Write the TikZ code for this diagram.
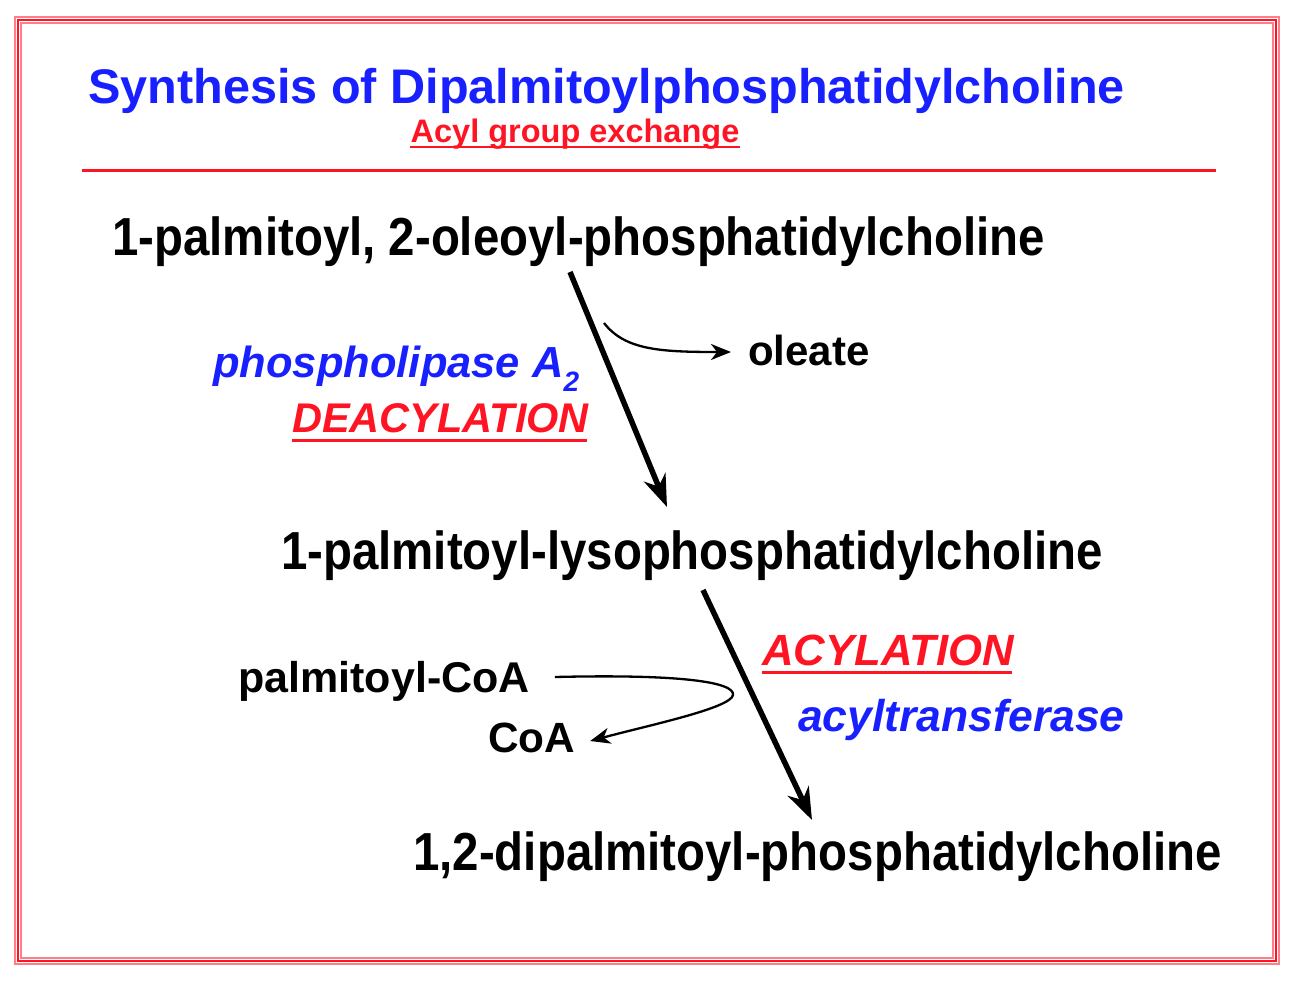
\documentclass[tikz,border=0pt]{standalone}
\usepackage{fontspec}
\setmainfont{Liberation Sans}
\usetikzlibrary{arrows.meta}

\definecolor{titleblue}{RGB}{24,32,255}
\definecolor{slidered}{RGB}{255,20,36}

\newcommand{\fs}[1]{\fontsize{#1}{#1}\selectfont}
\newcommand{\tallname}[1]{\scalebox{1}[1.13]{#1}}

\tikzset{
  chem/.style = {inner sep=0pt, anchor=base, font=\bfseries\fs{47.4}},
  side/.style = {inner sep=0pt, anchor=base west, font=\bfseries\fs{42}},
  enzyme/.style = {inner sep=0pt, anchor=base west, text=titleblue, font=\bfseries\itshape\fs{43.5}},
  steptype/.style = {inner sep=0pt, anchor=base west, text=slidered, font=\bfseries\itshape\fs{41.5}},
  react/.style = {line width=5.5pt, -{Stealth[length=32pt, width=23pt, inset=10pt]}},
  shunt/.style = {line width=2.3pt, -{Stealth[length=20pt, width=16pt, inset=6pt]}},
  uline/.style = {slidered, line width=3pt}
}

\begin{document}
\begin{tikzpicture}[x=1pt, y=-1pt]
    \useasboundingbox (0,0) rectangle (1302,982);
    % slide frame
    \begin{scope}[slidered, line width=1.6pt]
      \draw[slidered!55] (15,17) rectangle (1279,964);
      \draw (18,20) rectangle (1276,961);
      \draw[slidered!55] (21,23) rectangle (1273,958);
    \end{scope}
    % heading
    \node[inner sep=0pt, anchor=base, text=titleblue, font=\bfseries\fs{48.6}] (title) at (606.5,103)
      {Synthesis of Dipalmitoylphosphatidylcholine};
    \node[inner sep=0pt, anchor=base, text=slidered, font=\bfseries\fs{32.5}] (exchange) at (575,142)
      {Acyl group exchange};
    \draw[uline, line width=2.4pt] ([shift={(0,5)}]exchange.base west) -- ([shift={(0,5)}]exchange.base east);
    \draw[slidered, line width=2.6pt] (82,170.5) -- (1216,170.5);
    % lipids
    \node[chem] (pc)   at (578.5,255) {\tallname{1-palmitoyl, 2-oleoyl-phosphatidylcholine}};
    \node[chem] (lpc)  at (692,569)   {\tallname{1-palmitoyl-lysophosphatidylcholine}};
    \node[chem] (dppc) at (817.5,870) {\tallname{1,2-dipalmitoyl-phosphatidylcholine}};
    % deacylation step
    \node[enzyme] (pla) at (213,377)
      {phospholipase A\raisebox{-14pt}{\fs{28}2}};
    \node[steptype] (deacyl) at (292,432) {DEACYLATION};
    \draw[uline] ([shift={(0,8)}]deacyl.base west) -- ([shift={(-2,8)}]deacyl.base east);
    \node[side] (oleate) at (748,365) {oleate};
    \coordinate (split) at (604,323);
    \draw[react] ([shift={(-8.5,17)}]pc.base) -- ([shift={(-25,-62)}]lpc.base);
    \draw[shunt] (split) .. controls (625,350) and (660,352) .. ([shift={(-17,-13)}]oleate.base west);
    % acylation step
    \node[steptype, font=\bfseries\itshape\fs{43.7}] (acyl) at (762,665) {ACYLATION};
    \draw[uline] ([shift={(0,7)}]acyl.base west) -- ([shift={(-2,7)}]acyl.base east);
    \node[enzyme, font=\bfseries\itshape\fs{44.5}] (transferase) at (798,731) {acyltransferase};
    \node[side, anchor=base, font=\bfseries\fs{43}] (pcoa) at (384,692) {palmitoyl-CoA};
    \node[side, anchor=base, font=\bfseries\fs{42.3}] (coa) at (531.5,752) {CoA};
    \draw[react] ([shift={(11,21)}]lpc.base) -- ([shift={(-5.5,-50)}]dppc.base);
    \draw[shunt] ([shift={(25,-15)}]pcoa.base east) .. controls (680,674) and (735,682) .. (733,695)
      .. controls (731,708) and (650,725) .. ([shift={(15,-11)}]coa.base east);
\end{tikzpicture}
\end{document}
